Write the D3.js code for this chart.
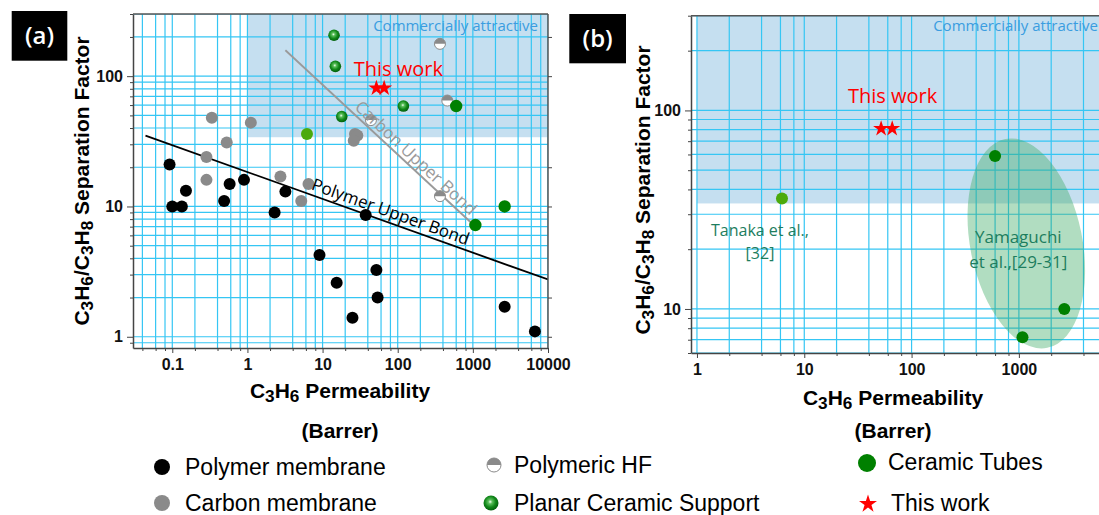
<!DOCTYPE html>
<html><head><meta charset="utf-8">
<script src="https://cdn.jsdelivr.net/npm/d3@7"></script>
<style>body{margin:0;background:#fff}svg{display:block}</style>
</head><body><svg id="c" width="1099" height="515"></svg>
<script>
// ---------- data ----------
const xTickValsA = [0.1, 1, 10, 100, 1000, 10000];
const xTickLabelsA = ["0.1", "1", "10", "100", "1000", "10000"];
const yTickValsA = [1, 10, 100];
const yTickLabelsA = ["1", "10", "100"];
const xTickValsB = [1, 10, 100, 1000];
const xTickLabelsB = ["1", "10", "100", "1000"];
const yTickValsB = [10, 100];
const yTickLabelsB = ["10", "100"];

// [C3H6 permeability (Barrer), C3H6/C3H8 separation factor]
const polymer = [[0.092,21],[0.1,10],[0.134,10],[0.152,13.2],[0.49,11],[0.58,14.9],[0.9,16],[2.3,9],[3.2,13],[37.5,8.6],[9.1,4.25],[15.4,2.6],[25,1.4],[52,3.25],[54,2.0],[2650,1.7],[6700,1.1]];
const carbon = [[0.336,48],[1.11,44],[0.53,31],[0.285,24],[0.285,16],[2.75,17],[6.5,14.9],[5.2,11],[27,36],[29,35],[26,32]];
const polymericHF = [[365,177],[457,65],[44,46],[365,12]];
const planarCeramic = [[14.2,206],[14.8,119],[119,59],[18,49]];
const ceramicTubes = [[600,59],[2650,10],[1080,7.2]];
const tanaka = [[6.2,36]];
const thisWork = [[52,81],[66,81]];
const polymerUpperBound = [[0.044,35],[10000,2.75]];
const carbonUpperBound = [[3.2,158],[1000,7.3]];
const attractiveMin = [1, 34];           // commercially attractive region: x >= 1, y >= 34
const yamaguchiEllipseEnds = [[747,71.8],[1840,6.37]]; // ends of the long axis

// ---------- setup ----------
const svg = d3.select("#c");
svg.append("rect").attr("width",1099).attr("height",515).attr("fill","#fff");
const defs = svg.append("defs");
const grad = defs.append("radialGradient").attr("id","sphere").attr("cx","45%").attr("cy","42%").attr("r","60%");
grad.append("stop").attr("offset","0%").attr("stop-color","#f4fff4");
grad.append("stop").attr("offset","22%").attr("stop-color","#5cc05c");
grad.append("stop").attr("offset","60%").attr("stop-color","#12881a");
grad.append("stop").attr("offset","100%").attr("stop-color","#005c0a");

const GRID = "#35c6f4";
const TICKFONT = "'Liberation Sans', Arial, sans-serif";
const CAL = "'Open Sans', 'Noto Sans', sans-serif";

const xA = d3.scaleLog().domain([0.03, 10000]).range([133, 548]);
const yA = d3.scaleLog().domain([0.82, 300]).range([348, 14]);
const xB = d3.scaleLog().domain([0.88, 5700]).range([691, 1100]);
const yB = d3.scaleLog().domain([6, 300]).range([353, 15.7]);

function multiples(scale, mults) {
  const [a, b] = scale.domain();
  const out = [];
  for (let e = Math.floor(Math.log10(a)); e <= Math.ceil(Math.log10(b)); e++) {
    for (const m of mults) {
      const v = m * Math.pow(10, e);
      if (v >= a * 0.999 && v <= b * 1.001) out.push(v);
    }
  }
  return out;
}

function subText(sel, parts) {
  // parts: array of [text, isSub]
  parts.forEach(([t, s]) => {
    const ts = sel.append("tspan").text(t);
    if (s) ts.attr("font-size", "0.82em").attr("dy", "0.22em");
    else ts.attr("dy", sel.node().__prevSub ? "-0.18em" : null);
    sel.node().__prevSub = s;
  });
}
const formulaY = [["C",0],["3",1],["H",0],["6",1],["/C",0],["3",1],["H",0],["8",1],[" Separation Factor",0]];
const formulaX = [["C",0],["3",1],["H",0],["6",1],[" Permeability",0]];

function circle(g, x, y, r, fill) {
  return g.append("circle").attr("cx", x).attr("cy", y).attr("r", r).attr("fill", fill);
}
function halfMarker(g, x, y, r) {
  const m = g.append("g").attr("transform", `translate(${x},${y})`);
  m.append("circle").attr("r", r).attr("fill", "#fff").attr("stroke", "#8a8a8a").attr("stroke-width", 1);
  m.append("path").attr("d", `M${-r},0 A${r},${r} 0 0 1 ${r},0 Z`).attr("fill", "#8a8a8a");
}
function sphere(g, x, y, r) {
  circle(g, x, y, r, "url(#sphere)");
}
function star(g, x, y, size) {
  g.append("path").attr("d", d3.symbol().type(d3.symbolStar).size(size)())
    .attr("transform", `translate(${x},${y})`).attr("fill", "#ff0000");
}

function drawPanel(o) {
  const { x, y, clipId, frameRight } = o;
  const [x0, x1] = x.range();
  const [y0, y1] = y.range(); // y0 bottom, y1 top
  defs.append("clipPath").attr("id", clipId).append("rect")
    .attr("x", x0).attr("y", y1).attr("width", x1 - x0).attr("height", y0 - y1);
  const g = svg.append("g").attr("clip-path", `url(#${clipId})`);
  // attractive region
  g.append("rect").attr("x", x(attractiveMin[0])).attr("y", y1)
    .attr("width", x1 - x(attractiveMin[0])).attr("height", y(attractiveMin[1]) - y1)
    .attr("fill", "#c5dff0");
  // grid
  multiples(x, [1,2,4,6,8]).forEach(v => g.append("line").attr("x1", x(v)).attr("x2", x(v))
    .attr("y1", y1).attr("y2", y0).attr("stroke", GRID).attr("stroke-width", 1.2));
  multiples(y, [1,2,3,4,5,6,7,8,9]).forEach(v => g.append("line").attr("y1", y(v)).attr("y2", y(v))
    .attr("x1", x0).attr("x2", x1).attr("stroke", GRID).attr("stroke-width", 1.2));
  // axes
  const ax = svg.append("g").attr("transform", `translate(0,${y0})`)
    .call(d3.axisBottom(x).tickValues(o.xTicks).tickFormat((d, i) => o.xLabels[i]).tickSizeInner(5).tickSizeOuter(0).tickPadding(6));
  svg.append("g").attr("transform", `translate(0,${y0})`)
    .call(d3.axisBottom(x).tickValues(multiples(x, [2,4,6,8])).tickFormat("").tickSizeInner(3).tickSizeOuter(0))
    .select(".domain").remove();
  const ay = svg.append("g").attr("transform", `translate(${x0},0)`)
    .call(d3.axisLeft(y).tickValues(o.yTicks).tickFormat((d, i) => o.yLabels[i]).tickSizeInner(6).tickSizeOuter(0).tickPadding(4));
  svg.append("g").attr("transform", `translate(${x0},0)`)
    .call(d3.axisLeft(y).tickValues(multiples(y, [2,3,4,5,6,7,8,9])).tickFormat("").tickSizeInner(3).tickSizeOuter(0))
    .select(".domain").remove();
  [ax, ay].forEach(a => {
    a.selectAll("text").attr("font-family", TICKFONT).attr("font-weight", "bold").attr("font-size", 16).attr("fill", "#111");
  });
  svg.selectAll(".domain").attr("stroke", "#444").attr("stroke-width", 1.5);
  svg.selectAll(".tick line").attr("stroke", "#444");
  // top border
  svg.append("line").attr("x1", x0).attr("x2", x1).attr("y1", y1).attr("y2", y1).attr("stroke", "#555").attr("stroke-width", 1.5);
  if (frameRight) {
    svg.append("line").attr("x1", x1).attr("x2", x1).attr("y1", y1).attr("y2", y0).attr("stroke", "#555").attr("stroke-width", 1.5);
    const rt = svg.append("g").attr("transform", `translate(${x1},0)`)
      .call(d3.axisLeft(y).tickValues(multiples(y, [1,2])).tickFormat("").tickSizeInner(-4).tickSizeOuter(0));
    rt.select(".domain").remove();
    rt.selectAll("line").attr("stroke", "#444");
  }
  return g;
}

// ---------- panel (a) ----------
const gA = drawPanel({ x: xA, y: yA, clipId: "clipA", frameRight: true,
  xTicks: xTickValsA, xLabels: xTickLabelsA, yTicks: yTickValsA, yLabels: yTickLabelsA });

function boundLine(g, pts, color, label, t, off, fs) {
  const p = pts.map(d => [xA(d[0]), yA(d[1])]);
  g.append("line").attr("x1", p[0][0]).attr("y1", p[0][1]).attr("x2", p[1][0]).attr("y2", p[1][1])
    .attr("stroke", color).attr("stroke-width", 1.8);
  const dx = p[1][0] - p[0][0], dy = p[1][1] - p[0][1];
  const len = Math.hypot(dx, dy), ang = Math.atan2(dy, dx) * 180 / Math.PI;
  const nx = dy / len, ny = -dx / len;
  const cx = p[0][0] + dx * t + nx * off, cy = p[0][1] + dy * t + ny * off;
  svg.append("text").attr("transform", `translate(${cx},${cy}) rotate(${ang})`)
    .attr("text-anchor", "middle").attr("font-family", CAL).attr("font-size", fs)
    .attr("fill", color).text(label);
}
boundLine(gA, carbonUpperBound, "#9a9a9a", "Carbon Upper Bond", 0.66, 4, 17);
boundLine(gA, polymerUpperBound, "#000", "Polymer Upper Bond", 0.6, 5, 17);

polymer.forEach(d => circle(gA, xA(d[0]), yA(d[1]), 6, "#000"));
carbon.forEach(d => circle(gA, xA(d[0]), yA(d[1]), 6, "#8a8a8a"));
polymericHF.forEach(d => halfMarker(gA, xA(d[0]), yA(d[1]), 5.5));
planarCeramic.forEach(d => sphere(gA, xA(d[0]), yA(d[1]), 5.8));
ceramicTubes.forEach(d => circle(gA, xA(d[0]), yA(d[1]), 6.2, "#008000"));
tanaka.forEach(d => circle(gA, xA(d[0]), yA(d[1]), 6, "#4caa0c"));
thisWork.forEach(d => star(gA, xA(d[0]), yA(d[1]), 80));

svg.append("text").attr("x", 538).attr("y", 31).attr("text-anchor", "end")
  .attr("font-family", CAL).attr("font-size", 15).attr("fill", "#3a9de0").text("Commercially attractive");
{
  const sx = d3.mean(thisWork, d => xA(d[0])), sy = d3.mean(thisWork, d => yA(d[1]));
  svg.append("text").attr("x", sx + 18).attr("y", sy - 12).attr("text-anchor", "middle")
    .attr("font-family", CAL).attr("font-size", 20).attr("fill", "#ff0000").text("This work");
}

// ---------- panel (b) ----------
const gB = drawPanel({ x: xB, y: yB, clipId: "clipB", frameRight: false,
  xTicks: xTickValsB, xLabels: xTickLabelsB, yTicks: yTickValsB, yLabels: yTickLabelsB });
{
  const e = yamaguchiEllipseEnds.map(d => [xB(d[0]), yB(d[1])]);
  const cx = (e[0][0] + e[1][0]) / 2, cy = (e[0][1] + e[1][1]) / 2;
  const dx = e[1][0] - e[0][0], dy = e[1][1] - e[0][1];
  const ry = Math.hypot(dx, dy) / 2, ang = -Math.atan2(dx, dy) * 180 / Math.PI;
  gB.append("ellipse").attr("transform", `translate(${cx},${cy}) rotate(${ang})`)
    .attr("rx", 56).attr("ry", ry).attr("fill", "rgba(60,170,100,0.4)");
}
ceramicTubes.forEach(d => circle(gB, xB(d[0]), yB(d[1]), 6, "#008000"));
tanaka.forEach(d => circle(gB, xB(d[0]), yB(d[1]), 6, "#4caa0c"));
thisWork.forEach(d => star(gB, xB(d[0]), yB(d[1]), 80));

svg.append("text").attr("x", 1098).attr("y", 31).attr("text-anchor", "end")
  .attr("font-family", CAL).attr("font-size", 15).attr("fill", "#3a9de0").text("Commercially attractive");
{
  const sx = d3.mean(thisWork, d => xB(d[0])), sy = d3.mean(thisWork, d => yB(d[1]));
  svg.append("text").attr("x", sx + 6).attr("y", sy - 26).attr("text-anchor", "middle")
    .attr("font-family", CAL).attr("font-size", 20).attr("fill", "#ff0000").text("This work");
  const tx = xB(tanaka[0][0]), ty = yB(tanaka[0][1]);
  const tt = svg.append("text").attr("text-anchor", "middle").attr("font-family", CAL)
    .attr("font-size", 16).attr("fill", "#1d7d5e");
  tt.append("tspan").attr("x", tx - 22).attr("y", ty + 37).text("Tanaka et al.,");
  tt.append("tspan").attr("x", tx - 22).attr("y", ty + 60).text("[32]");
  const yt = svg.append("text").attr("text-anchor", "middle").attr("font-family", CAL)
    .attr("font-size", 17).attr("fill", "#1d7d5e");
  const ex = d3.mean(yamaguchiEllipseEnds, d => xB(d[0])) - 8;
  yt.append("tspan").attr("x", ex).attr("y", 243).text("Yamaguchi");
  yt.append("tspan").attr("x", ex).attr("y", 268).text("et al.,[29-31]");
}

// ---------- axis titles ----------
function yTitle(x, y) {
  const t = svg.append("text").attr("transform", `translate(${x},${y}) rotate(-90)`)
    .attr("text-anchor", "middle").attr("font-family", TICKFONT).attr("font-weight", "bold")
    .attr("font-size", 21).attr("fill", "#000");
  subText(t, formulaY);
}
function xTitle(x, y1, y2) {
  const t = svg.append("text").attr("x", x).attr("y", y1)
    .attr("text-anchor", "middle").attr("font-family", TICKFONT).attr("font-weight", "bold")
    .attr("font-size", 21).attr("fill", "#000");
  subText(t, formulaX);
  svg.append("text").attr("x", x).attr("y", y2)
    .attr("text-anchor", "middle").attr("font-family", TICKFONT).attr("font-weight", "bold")
    .attr("font-size", 21).attr("fill", "#000").text("(Barrer)");
}
yTitle(89, 181);
yTitle(650, 190);
xTitle(340, 398, 438);
xTitle(893, 405, 438);

// ---------- panel letters ----------
function letter(x, y, w, h, s) {
  svg.append("rect").attr("x", x).attr("y", y).attr("width", w).attr("height", h).attr("fill", "#000");
  svg.append("text").attr("x", x + w / 2).attr("y", y + h / 2 + 8).attr("text-anchor", "middle")
    .attr("font-family", CAL).attr("font-size", 24).attr("font-weight", 600).attr("fill", "#fff").text(s);
}
letter(11.7, 11, 55.6, 49.7, "(a)");
letter(569.3, 14, 56.7, 49.3, "(b)");

// ---------- legend ----------
const lg = svg.append("g");
function lText(x, y, s) {
  lg.append("text").attr("x", x).attr("y", y).attr("font-family", TICKFONT)
    .attr("font-size", 23).attr("fill", "#000").text(s);
}
circle(lg, 162, 467, 8, "#000"); lText(185, 475, "Polymer membrane");
circle(lg, 162, 503, 8, "#8a8a8a"); lText(185, 511, "Carbon membrane");
halfMarker(lg, 494, 465, 7); lText(514, 473, "Polymeric HF");
sphere(lg, 491, 503, 7.5); lText(514, 511, "Planar Ceramic Support");
circle(lg, 867, 463, 9, "#008000"); lText(888, 470, "Ceramic Tubes");
star(lg, 868, 504, 100); lText(891, 511, "This work");
</script>
</body></html>
